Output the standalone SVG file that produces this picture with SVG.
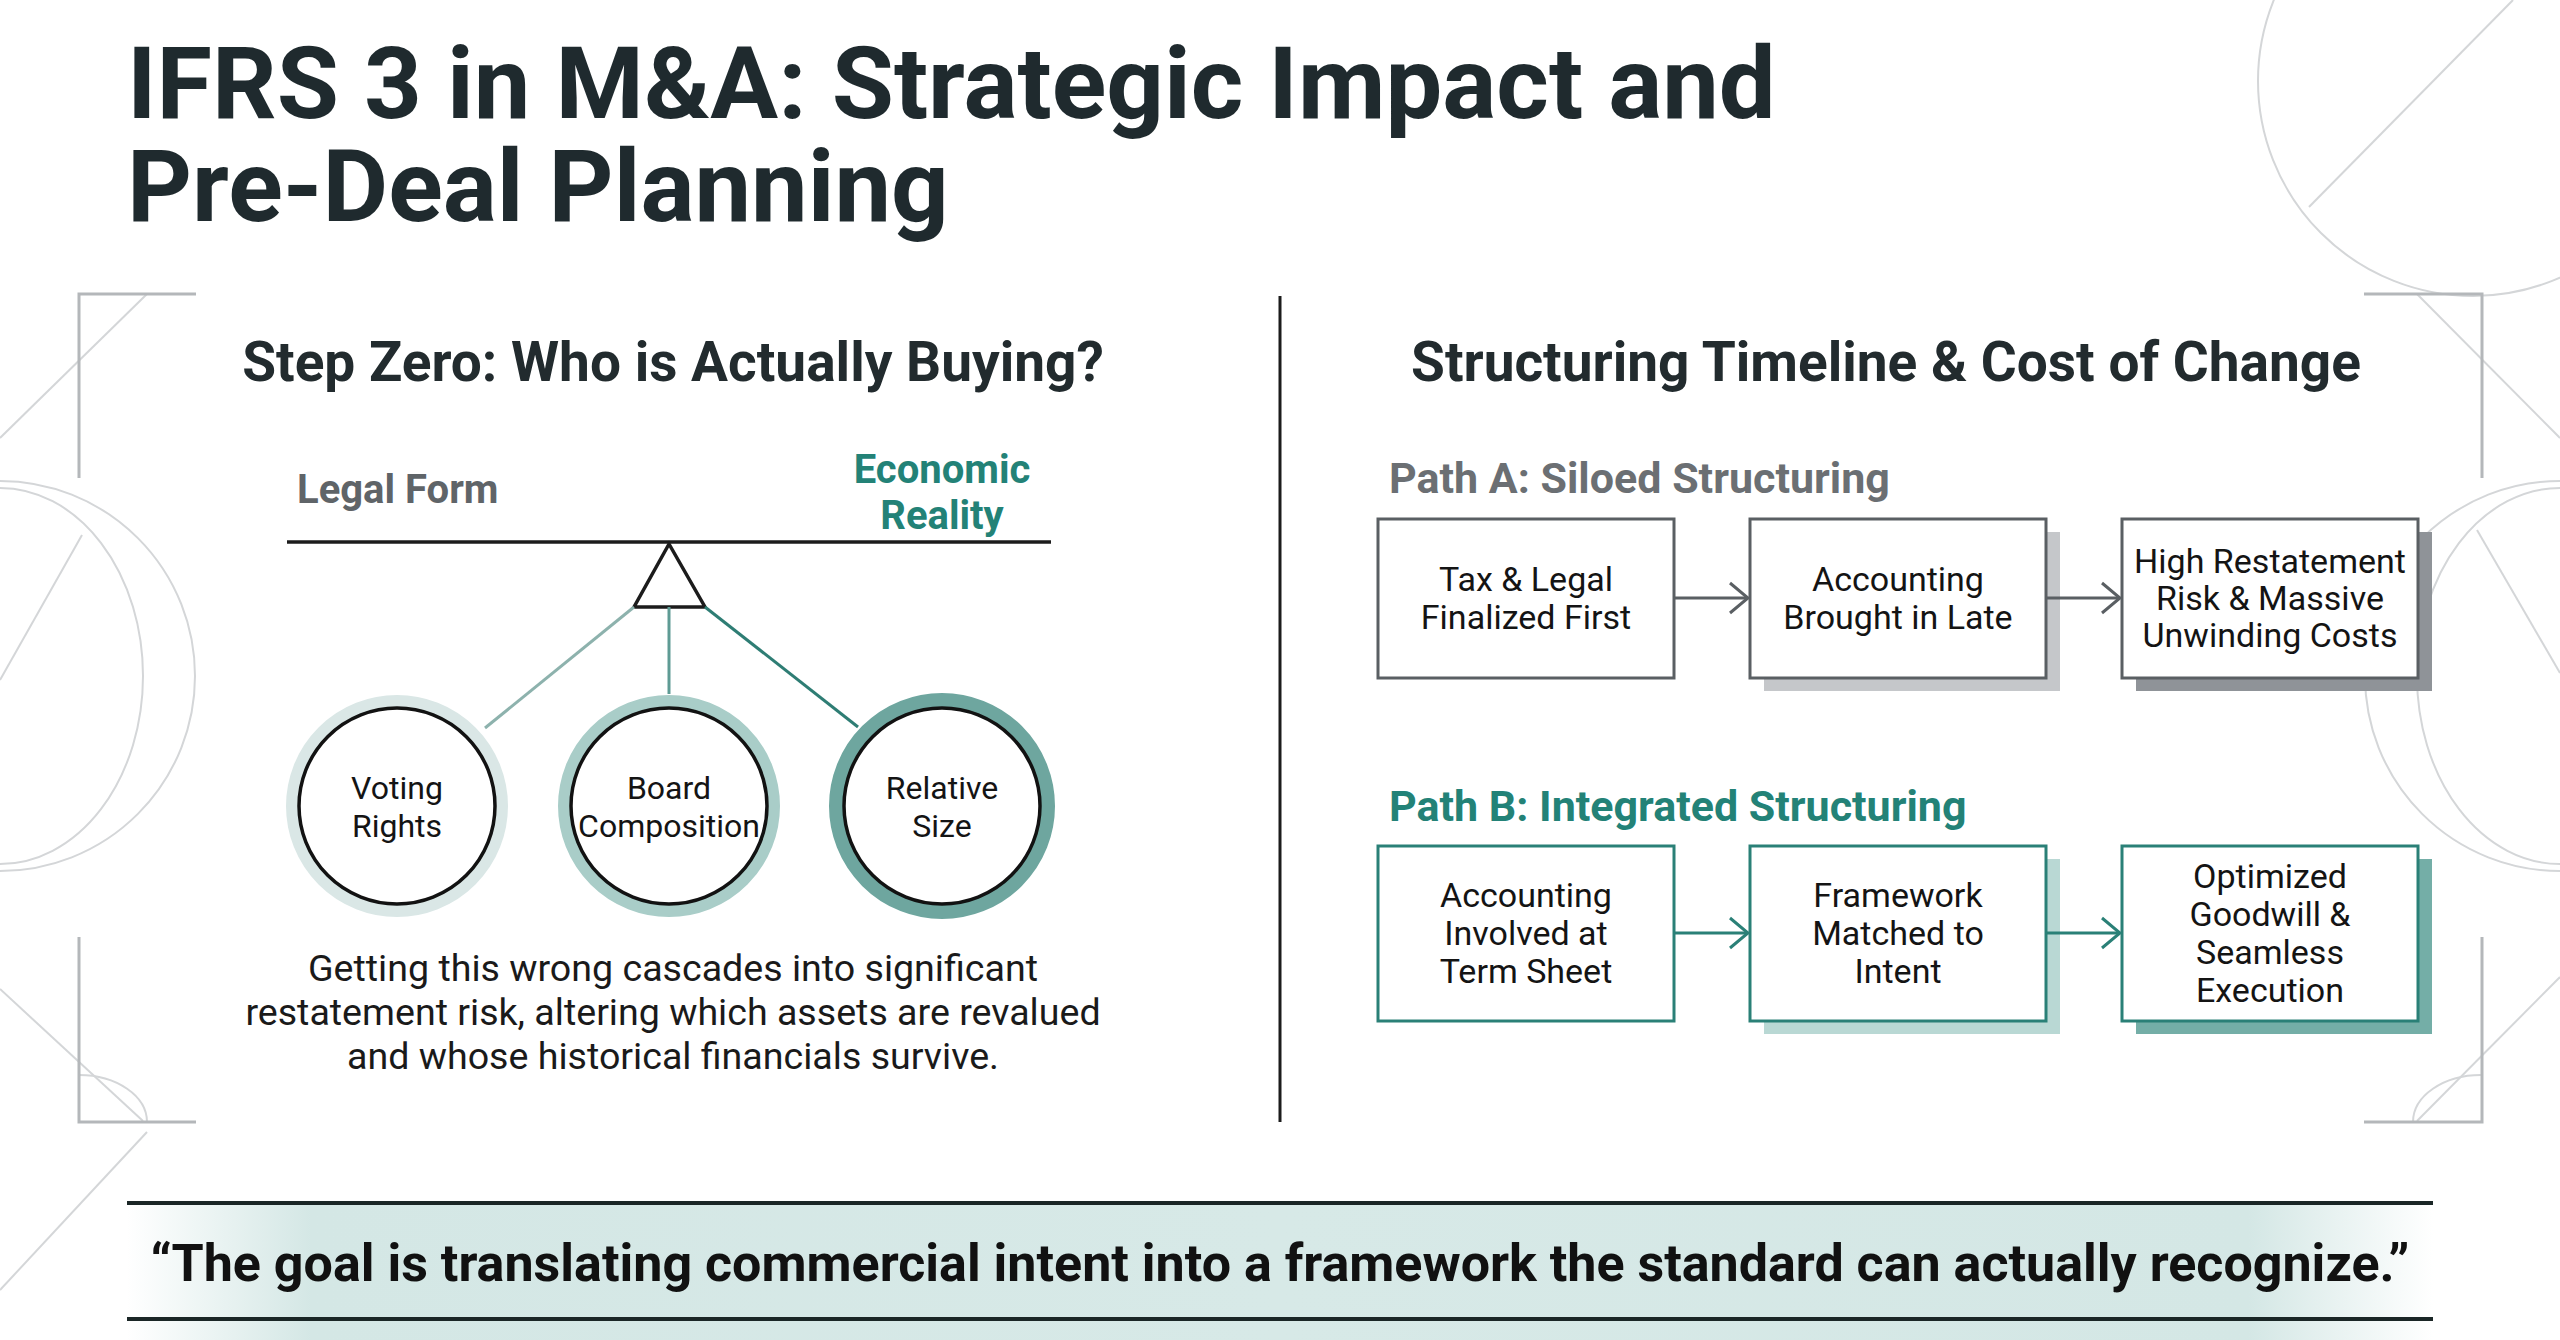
<svg xmlns="http://www.w3.org/2000/svg" width="2560" height="1340" viewBox="0 0 2560 1340">
<defs>
<style>
.deco{fill:none;stroke:#d4d6d8;stroke-width:2}
.brk{fill:none;stroke:#b4b7ba;stroke-width:3}
.ttl{font-family:Roboto,'Liberation Sans',Arial,sans-serif;font-weight:700;fill:#1f2a2e}
.h2{font-family:Roboto,'Liberation Sans',Arial,sans-serif;font-weight:700;font-size:55px;fill:#222b2e;text-anchor:middle}
.lbl{font-family:Roboto,'Liberation Sans',Arial,sans-serif;font-weight:700;font-size:40px}
.path{font-family:Roboto,'Liberation Sans',Arial,sans-serif;font-weight:700;font-size:43px}
.ct{font-family:Roboto,'Liberation Sans',Arial,sans-serif;font-size:32px;fill:#141414;text-anchor:middle}
.bt{font-family:Roboto,'Liberation Sans',Arial,sans-serif;font-size:34px;fill:#141414;text-anchor:middle}
.cap{font-family:Roboto,'Liberation Sans',Arial,sans-serif;font-size:37.6px;fill:#1a1a1a;text-anchor:middle}
.q{font-family:Roboto,'Liberation Sans',Arial,sans-serif;font-weight:700;font-size:52px;fill:#111;text-anchor:middle}
.boxA{fill:#fff;stroke:#5a5f63;stroke-width:3}
.boxB{fill:#fff;stroke:#2a8077;stroke-width:3}
.inner{fill:#fff;stroke:#121212;stroke-width:3.5}
.arA{stroke:#5a5f63;stroke-width:3;fill:none}
.arB{stroke:#2a8077;stroke-width:3;fill:none}
</style>
<marker id="mA" markerUnits="userSpaceOnUse" viewBox="0 0 22 34" refX="20" refY="17" markerWidth="22" markerHeight="34" orient="auto">
<path d="M2,2 L20,17 L2,32" fill="none" stroke="#5a5f63" stroke-width="3"/>
</marker>
<marker id="mB" markerUnits="userSpaceOnUse" viewBox="0 0 22 34" refX="20" refY="17" markerWidth="22" markerHeight="34" orient="auto">
<path d="M2,2 L20,17 L2,32" fill="none" stroke="#2a8077" stroke-width="3"/>
</marker>
<linearGradient id="qg" x1="127" y1="0" x2="2433" y2="0" gradientUnits="userSpaceOnUse">
<stop offset="0" stop-color="#ffffff"/>
<stop offset="0.08" stop-color="#d4e7e5"/>
<stop offset="0.5" stop-color="#d7e9e7"/>
<stop offset="0.92" stop-color="#d4e7e5"/>
<stop offset="1" stop-color="#ffffff"/>
</linearGradient>
</defs>
<rect width="2560" height="1340" fill="#ffffff"/>

<g id="background-decor">
<line class="deco" x1="147" y1="294" x2="0" y2="438"/>
<circle class="deco" cx="0" cy="676" r="195"/>
<ellipse class="deco" cx="0" cy="676" rx="143" ry="188"/>
<line class="deco" x1="82" y1="535" x2="0" y2="680"/>
<line class="deco" x1="0" y1="989" x2="143" y2="1121"/>
<path class="deco" d="M79,1075 A68,47 0 0 1 147,1122"/>
<line class="deco" x1="147" y1="1132" x2="0" y2="1290"/>
<circle class="deco" cx="2473" cy="81" r="215"/>
<line class="deco" x1="2513" y1="0" x2="2309" y2="207"/>
<line class="deco" x1="2417" y1="294" x2="2560" y2="438"/>
<circle class="deco" cx="2560" cy="676" r="195"/>
<ellipse class="deco" cx="2560" cy="676" rx="143" ry="188"/>
<line class="deco" x1="2477" y1="530" x2="2560" y2="673"/>
<line class="deco" x1="2560" y1="977" x2="2417" y2="1121"/>
<path class="deco" d="M2413,1122 A68,47 0 0 1 2481,1075"/>
<path class="brk" d="M196,294 H79 V478"/>
<path class="brk" d="M79,937 V1122 H196"/>
<path class="brk" d="M2364,294 H2482 V478"/>
<path class="brk" d="M2482,937 V1122 H2364"/>
</g>

<g id="title">
<text class="ttl" font-size="101" x="127" y="118">IFRS 3 in M&amp;A: Strategic Impact and</text>
<text class="ttl" font-size="101" x="127" y="221">Pre-Deal Planning</text>
</g>

<line id="divider" x1="1280" y1="296" x2="1280" y2="1122" stroke="#1c1c1c" stroke-width="3"/>

<g id="left-panel">
<text class="h2" x="673" y="381">Step Zero: Who is Actually Buying?</text>
<g id="balance">
<text class="lbl" x="297" y="503" fill="#5f6468">Legal Form</text>
<text class="lbl" x="942" y="483" fill="#238277" text-anchor="middle">Economic</text>
<text class="lbl" x="942" y="529" fill="#238277" text-anchor="middle">Reality</text>
<line x1="287" y1="542" x2="1051" y2="542" stroke="#1c1c1c" stroke-width="3.5"/>
<polygon points="669,544 634,607 705,607" fill="#fff" stroke="#1c1c1c" stroke-width="3.5" stroke-linejoin="miter"/>
</g>
<g id="node-voting">
<circle cx="397" cy="806" r="104" fill="none" stroke="#dae7e6" stroke-width="14"/>
<circle class="inner" cx="397" cy="806" r="98"/>
<text class="ct" x="397" y="799">Voting</text>
<text class="ct" x="397" y="837">Rights</text>
</g>
<g id="node-board">
<circle cx="669" cy="806" r="104" fill="none" stroke="#a9cdc8" stroke-width="14"/>
<circle class="inner" cx="669" cy="806" r="98"/>
<text class="ct" x="669" y="799">Board</text>
<text class="ct" x="669" y="837">Composition</text>
</g>
<g id="node-relative">
<circle cx="942" cy="806" r="105" fill="none" stroke="#6ea69f" stroke-width="16"/>
<circle class="inner" cx="942" cy="806" r="98"/>
<text class="ct" x="942" y="799">Relative</text>
<text class="ct" x="942" y="837">Size</text>
</g>
<g id="caption">
<text class="cap" x="673" y="981">Getting this wrong cascades into significant</text>
<text class="cap" x="673" y="1025">restatement risk, altering which assets are revalued</text>
<text class="cap" x="673" y="1069">and whose historical financials survive.</text>
</g>
</g>

<g id="right-panel">
<text class="h2" x="1886" y="381">Structuring Timeline &amp; Cost of Change</text>
<text class="path" x="1389" y="493" fill="#6b6f73">Path A: Siloed Structuring</text>
<text class="path" x="1389" y="821" fill="#238277">Path B: Integrated Structuring</text>
<g id="nodeA1">
<rect class="boxA" x="1378" y="519" width="296" height="159"/>
<text class="bt" x="1526" y="591">Tax &amp; Legal</text>
<text class="bt" x="1526" y="629">Finalized First</text>
</g>
<g id="nodeA2">
<rect x="1764" y="532" width="296" height="159" fill="#c5c7ca"/>
<rect class="boxA" x="1750" y="519" width="296" height="159"/>
<text class="bt" x="1898" y="591">Accounting</text>
<text class="bt" x="1898" y="629">Brought in Late</text>
</g>
<g id="nodeA3">
<rect x="2136" y="532" width="296" height="159" fill="#8f9398"/>
<rect class="boxA" x="2122" y="519" width="296" height="159"/>
<text class="bt" x="2270" y="573">High Restatement</text>
<text class="bt" x="2270" y="610">Risk &amp; Massive</text>
<text class="bt" x="2270" y="647">Unwinding Costs</text>
</g>
<g id="nodeB1">
<rect class="boxB" x="1378" y="846" width="296" height="175"/>
<text class="bt" x="1526" y="907">Accounting</text>
<text class="bt" x="1526" y="945">Involved at</text>
<text class="bt" x="1526" y="983">Term Sheet</text>
</g>
<g id="nodeB2">
<rect x="1764" y="859" width="296" height="175" fill="#b9d8d4"/>
<rect class="boxB" x="1750" y="846" width="296" height="175"/>
<text class="bt" x="1898" y="907">Framework</text>
<text class="bt" x="1898" y="945">Matched to</text>
<text class="bt" x="1898" y="983">Intent</text>
</g>
<g id="nodeB3">
<rect x="2136" y="859" width="296" height="175" fill="#74aea7"/>
<rect class="boxB" x="2122" y="846" width="296" height="175"/>
<text class="bt" x="2270" y="888">Optimized</text>
<text class="bt" x="2270" y="926">Goodwill &amp;</text>
<text class="bt" x="2270" y="964">Seamless</text>
<text class="bt" x="2270" y="1002">Execution</text>
</g>
</g>

<g id="connectors">
<line x1="634" y1="607" x2="485" y2="728" stroke="#8db2ad" stroke-width="3"/>
<line x1="669" y1="607" x2="669" y2="694" stroke="#5e9b94" stroke-width="3"/>
<line x1="705" y1="607" x2="858" y2="727" stroke="#2e7d74" stroke-width="3"/>
<line class="arA" x1="1675" y1="598" x2="1748" y2="598" marker-end="url(#mA)"/>
<line class="arA" x1="2047" y1="598" x2="2120" y2="598" marker-end="url(#mA)"/>
<line class="arB" x1="1675" y1="933" x2="1748" y2="933" marker-end="url(#mB)"/>
<line class="arB" x1="2047" y1="933" x2="2120" y2="933" marker-end="url(#mB)"/>
</g>

<g id="quote">
<rect x="127" y="1203" width="2306" height="137" fill="url(#qg)"/>
<line x1="127" y1="1203" x2="2433" y2="1203" stroke="#1a2626" stroke-width="4"/>
<line x1="127" y1="1319" x2="2433" y2="1319" stroke="#1a2626" stroke-width="4"/>
<text class="q" x="1280" y="1281">“The goal is translating commercial intent into a framework the standard can actually recognize.”</text>
</g>
</svg>
